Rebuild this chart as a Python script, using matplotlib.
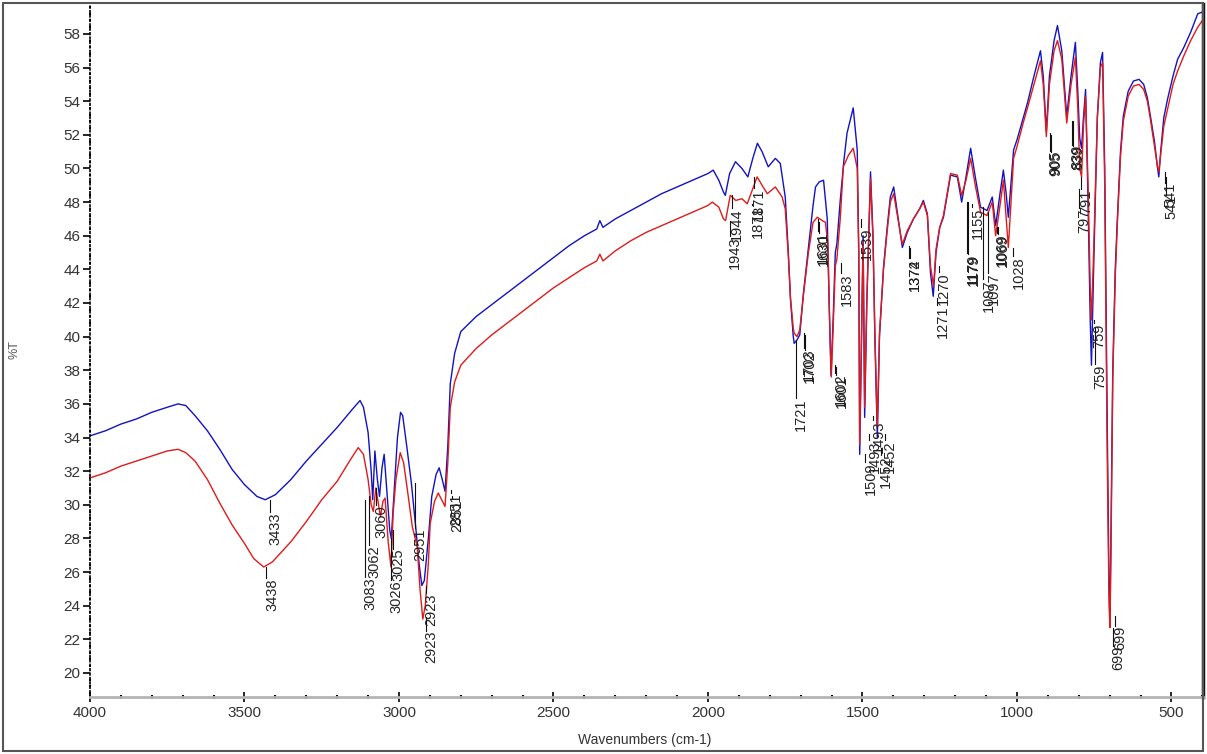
import matplotlib
matplotlib.use("Agg")
import matplotlib.pyplot as plt
from matplotlib.ticker import MultipleLocator
from matplotlib.patches import Rectangle

plt.rcParams['font.family'] = ['Liberation Sans', 'DejaVu Sans']

# blue spectrum: wavenumber (cm-1) and %T
blue_wn = [4000, 3950, 3900, 3850, 3800, 3750, 3715, 3690, 3660, 3620, 3580, 3540, 3500, 3460,
           3433, 3400, 3350, 3300, 3250, 3200, 3150, 3126, 3115, 3100, 3090, 3085, 3078, 3070,
           3063, 3055, 3048, 3040, 3030, 3025, 3015, 3005, 2995, 2988, 2975, 2960, 2945, 2935,
           2926, 2918, 2905, 2894, 2880, 2870, 2860, 2851, 2842, 2834, 2820, 2800, 2750, 2700,
           2650, 2600, 2550, 2500, 2450, 2400, 2360, 2350, 2340, 2300, 2250, 2200, 2150, 2100,
           2050, 2000, 1983, 1965, 1950, 1944, 1930, 1911, 1890, 1871, 1855, 1840, 1825, 1805,
           1782, 1766, 1750, 1740, 1733, 1724, 1721, 1712, 1703, 1691, 1675, 1660, 1652, 1640,
           1626, 1614, 1608, 1602, 1595, 1588, 1583, 1572, 1560, 1550, 1530, 1517, 1512, 1509,
           1503, 1498, 1493, 1486, 1474, 1466, 1460, 1452, 1445, 1432, 1420, 1410, 1399, 1388,
           1377, 1371, 1355, 1335, 1315, 1303, 1290, 1280, 1271, 1262, 1250, 1238, 1215, 1193,
           1179, 1165, 1150, 1135, 1118, 1097, 1080, 1069, 1055, 1044, 1035, 1028, 1011, 1000,
           980, 966, 945, 924, 915, 905, 895, 880, 869, 855, 839, 825, 811, 803, 797, 791, 785,
           778, 770, 763, 759, 752, 740, 730, 723, 716, 708, 702, 699, 696, 690, 682, 675, 665,
           656, 640, 623, 605, 590, 578, 568, 555, 545, 541, 535, 525, 513, 495, 480, 460, 438,
           415, 400]
blue_t = [34.1, 34.4, 34.8, 35.1, 35.5, 35.8, 36.0, 35.9, 35.3, 34.4, 33.3, 32.1, 31.2, 30.5,
          30.3, 30.6, 31.5, 32.6, 33.6, 34.6, 35.7, 36.2, 35.8, 34.3, 32.0, 30.3, 33.2, 31.5,
          30.5, 32.2, 33.0, 31.0, 28.5, 28.0, 31.0, 34.0, 35.5, 35.3, 33.5, 31.3, 28.5, 26.5,
          25.2, 25.5, 28.0, 30.5, 31.8, 32.2, 31.5, 30.8, 33.5, 37.2, 39.0, 40.3, 41.2, 41.9,
          42.6, 43.3, 44.0, 44.7, 45.4, 46.0, 46.4, 46.9, 46.5, 47.0, 47.5, 48.0, 48.5, 48.9,
          49.3, 49.7, 49.9, 49.3, 48.6, 48.4, 49.7, 50.4, 50.0, 49.5, 50.6, 51.5, 51.0, 50.1,
          50.6, 50.3, 48.3, 45.0, 42.2, 40.0, 39.6, 39.8, 40.1, 42.6, 45.3, 47.8, 48.9, 49.2,
          49.3, 47.0, 42.0, 37.7, 41.0, 45.0, 45.5, 48.1, 50.5, 52.1, 53.6, 51.1, 45.0, 33.0,
          40.0, 46.0, 35.2, 42.0, 49.8, 46.0, 40.0, 34.0, 40.0, 44.1, 46.5, 48.3, 48.9, 47.5,
          46.1, 45.3, 46.2, 47.0, 47.6, 48.1, 47.3, 43.8, 42.4, 45.0, 46.5, 47.1, 49.6, 49.5,
          48.0, 49.5, 51.2, 49.5, 47.7, 47.5, 48.3, 46.6, 48.5, 49.9, 48.5, 47.1, 51.1, 51.7,
          53.0, 53.9, 55.5, 57.0, 55.5, 52.2, 55.5, 57.6, 58.5, 57.0, 53.1, 55.5, 57.5, 54.5,
          51.8, 51.2, 53.0, 54.7, 48.0, 41.0, 38.3, 44.0, 53.0, 56.3, 56.9, 50.0, 35.0, 25.0,
          23.4, 28.0, 38.0, 44.0, 47.1, 51.0, 53.1, 54.6, 55.2, 55.3, 55.0, 54.2, 53.1, 51.6,
          50.0, 49.5, 51.0, 53.0, 54.1, 55.5, 56.5, 57.2, 58.1, 59.2, 59.3]

# red spectrum
red_wn = [4000, 3950, 3900, 3850, 3800, 3750, 3715, 3690, 3660, 3620, 3580, 3540, 3500, 3470,
          3438, 3410, 3350, 3300, 3250, 3200, 3160, 3132, 3115, 3100, 3090, 3083, 3075, 3068,
          3060, 3052, 3045, 3035, 3026, 3019, 3010, 2996, 2985, 2970, 2957, 2941, 2932, 2923,
          2915, 2905, 2899, 2885, 2873, 2862, 2851, 2842, 2834, 2820, 2800, 2750, 2700, 2650,
          2600, 2550, 2500, 2450, 2400, 2360, 2350, 2340, 2300, 2250, 2200, 2150, 2100, 2050,
          2000, 1986, 1965, 1950, 1943, 1928, 1910, 1890, 1873, 1855, 1841, 1825, 1808, 1782,
          1760, 1750, 1740, 1733, 1724, 1721, 1712, 1703, 1691, 1675, 1660, 1646, 1630, 1620,
          1612, 1607, 1601, 1595, 1588, 1583, 1572, 1562, 1545, 1530, 1517, 1512, 1509, 1503,
          1498, 1493, 1486, 1474, 1466, 1460, 1452, 1445, 1432, 1420, 1410, 1399, 1388, 1377,
          1371, 1355, 1335, 1315, 1303, 1290, 1280, 1270, 1262, 1250, 1238, 1215, 1193, 1179,
          1165, 1150, 1135, 1118, 1097, 1080, 1069, 1055, 1044, 1035, 1028, 1011, 1000, 980,
          966, 945, 924, 915, 905, 895, 880, 869, 855, 839, 825, 811, 803, 797, 791, 785, 778,
          770, 763, 759, 752, 740, 730, 723, 716, 708, 702, 699, 696, 690, 682, 675, 665, 656,
          640, 623, 605, 590, 578, 568, 555, 545, 541, 535, 525, 513, 495, 480, 460, 438, 415,
          400]
red_t = [31.6, 31.9, 32.3, 32.6, 32.9, 33.2, 33.3, 33.1, 32.6, 31.5, 30.1, 28.8, 27.7, 26.8,
         26.3, 26.6, 27.8, 29.0, 30.3, 31.4, 32.6, 33.4, 33.0, 31.5, 30.0, 29.6, 31.0, 30.2,
         29.3, 30.2, 30.4, 27.8, 26.3, 29.5, 31.5, 33.1, 32.5, 30.5, 28.7, 27.5, 25.0, 23.2,
         24.0, 26.5, 28.9, 30.2, 30.7, 30.3, 29.9, 32.5, 35.8, 37.3, 38.3, 39.3, 40.1, 40.8,
         41.5, 42.2, 42.9, 43.5, 44.1, 44.5, 44.9, 44.5, 45.1, 45.7, 46.2, 46.6, 47.0, 47.4,
         47.8, 48.0, 47.7, 47.0, 46.9, 48.4, 48.1, 48.2, 47.9, 48.8, 49.5, 49.0, 48.5, 48.9,
         48.3, 47.6, 44.8, 42.3, 40.5, 40.2, 40.0, 40.4, 42.5, 45.0, 46.8, 47.1, 46.9, 46.8,
         45.5, 41.5, 37.6, 40.5, 44.2, 44.6, 47.0, 50.1, 50.8, 51.2, 50.0, 44.8, 33.6, 40.2,
         45.6, 35.8, 42.2, 49.4, 45.8, 40.3, 34.6, 40.2, 44.0, 46.3, 48.0, 48.5, 47.3, 46.1,
         45.5, 46.3, 47.0, 47.6, 48.0, 47.2, 44.2, 43.0, 45.2, 46.5, 47.2, 49.7, 49.6, 48.4,
         49.3, 50.6, 49.0, 47.4, 47.2, 48.0, 46.0, 47.8, 49.3, 47.0, 45.3, 50.6, 51.3, 52.7,
         53.6, 55.0, 56.4, 55.0, 51.9, 55.0, 57.0, 57.6, 56.5, 52.7, 55.0, 56.6, 53.5, 50.0,
         49.5, 52.5, 54.3, 49.0, 43.0, 41.0, 45.0, 53.0, 56.0, 56.3, 49.0, 33.0, 24.0, 22.7,
         27.0, 37.5, 43.5, 46.8, 50.7, 52.8, 54.3, 54.9, 55.0, 54.7, 54.0, 52.9, 51.3, 50.1,
         49.8, 50.8, 52.5, 53.5, 55.0, 55.8, 56.7, 57.6, 58.4, 58.8]

# peak labels: text, label centre (cm-1), top of label (%T), start of leader line (%T)
peak_text = ["3433", "3438", "3083", "3062", "3060", "3026", "3025", "2951", "2923", "2923",
             "2851", "2851", "1943", "1944", "1871", "1871", "1721", "1703", "1702", "1631",
             "1630", "1602", "1601", "1583", "1539", "1509", "1493", "1493", "1452", "1452",
             "1374", "1372", "1271", "1270", "1179", "1179", "1155", "1097", "1097", "1069",
             "1069", "1028", "905", "905", "839", "839", "797", "791", "759", "759",
             "699", "699", "541", "541"]
peak_x = [3401, 3411, 3093, 3080, 3058, 3009, 3003, 2931, 2896, 2896,
          2815, 2812, 1912, 1905, 1840, 1834, 1698, 1672, 1669, 1627,
          1624, 1571, 1568, 1552, 1487, 1474, 1461, 1448, 1423, 1410,
          1332, 1329, 1241, 1235, 1144, 1141, 1128, 1092, 1075, 1048,
          1045, 995, 876, 873, 805, 802, 781, 775, 733, 730,
          671, 665, 500, 503]
peak_top = [29.55, 25.62, 25.68, 27.6, 29.96, 25.5, 27.4, 28.6, 22.52, 24.73,
            30.68, 30.32, 45.98, 47.64, 47.82, 48.83, 36.33, 39.31, 39.19, 46.27,
            46.15, 37.82, 37.7, 43.77, 46.5, 32.52, 33.83, 35.02, 32.94, 33.83,
            44.67, 44.67, 41.87, 43.83, 44.96, 44.9, 47.7, 43.4, 43.8, 46.15,
            46.1, 44.79, 51.04, 51.0, 51.39, 51.35, 47.64, 48.77, 40.8, 38.36,
            21.63, 22.82, 48.42, 49.13]
stem_top = [30.3, 26.3, 30.3, 30.5, 31.0, 28.0, 28.5, 31.3, 23.3, 25.2,
            30.9, 30.5, 46.9, 48.4, 47.9, 49.5, 39.8, 40.2, 40.1, 47.0,
            46.8, 38.3, 38.2, 44.4, 47.0, 33.0, 34.2, 35.3, 33.4, 34.2,
            45.4, 45.3, 42.3, 44.2, 48.0, 48.0, 47.9, 47.7, 47.4, 46.5,
            46.5, 45.3, 52.1, 52.0, 52.8, 52.8, 48.8, 49.5, 41.0, 40.5,
            22.7, 23.4, 49.5, 49.8]

fig = plt.figure(figsize=(12.07, 7.54), dpi=100)
ax = fig.add_axes([90 / 1207, 57 / 754, 1113 / 1207, 693 / 754])

ax.plot(blue_wn, blue_t, color='#1212c4', lw=1.0)
ax.plot(red_wn, red_t, color='#e01a1a', lw=1.0)

for s, x, top, st in zip(peak_text, peak_x, peak_top, stem_top):
    ax.plot([x + 18, x + 18], [st, top], color='#111111', lw=0.8)
    ax.text(x, top, s, rotation=90, ha='center', va='top', fontsize=10.5, color='#222222')

ax.set_xlim(4000, 398)
ax.set_ylim(18.57, 59.78)
ax.xaxis.set_major_locator(MultipleLocator(500))
ax.xaxis.set_minor_locator(MultipleLocator(100))
ax.yaxis.set_major_locator(MultipleLocator(2))
ax.yaxis.set_minor_locator(MultipleLocator(0.4))

ax.tick_params(axis='x', which='major', direction='inout', length=7, width=1.2,
               labelsize=11, pad=3, labelcolor='#333333')
ax.tick_params(axis='x', which='minor', direction='inout', length=3, width=1.5)
ax.tick_params(axis='y', which='major', direction='out', length=5, width=1.2,
               labelsize=11, pad=2, labelcolor='#333333')
ax.tick_params(axis='y', which='minor', direction='inout', length=2, width=1.5)

ax.spines['top'].set_visible(False)
ax.spines['bottom'].set_color('#b4b4b4')
ax.spines['bottom'].set_linewidth(2)
ax.spines['left'].set_linestyle(':')
ax.spines['left'].set_linewidth(1.2)
ax.spines['right'].set_color('#111111')
ax.spines['right'].set_linewidth(2.5)

fig.text(15 / 1207, 1 - 350 / 754, '%T', rotation=90, ha='center', va='center',
         fontsize=9, color='#555555')
fig.text(645 / 1207, 1 - 740 / 754, 'Wavenumbers (cm-1)', ha='center', va='center',
         fontsize=10, color='#333333')

fig.patches.append(Rectangle((3 / 1207, 3 / 754), 1200 / 1207, 748 / 754, fill=False,
                             edgecolor='#555555', lw=1.5, transform=fig.transFigure))

fig.savefig('out.png', dpi=100)
